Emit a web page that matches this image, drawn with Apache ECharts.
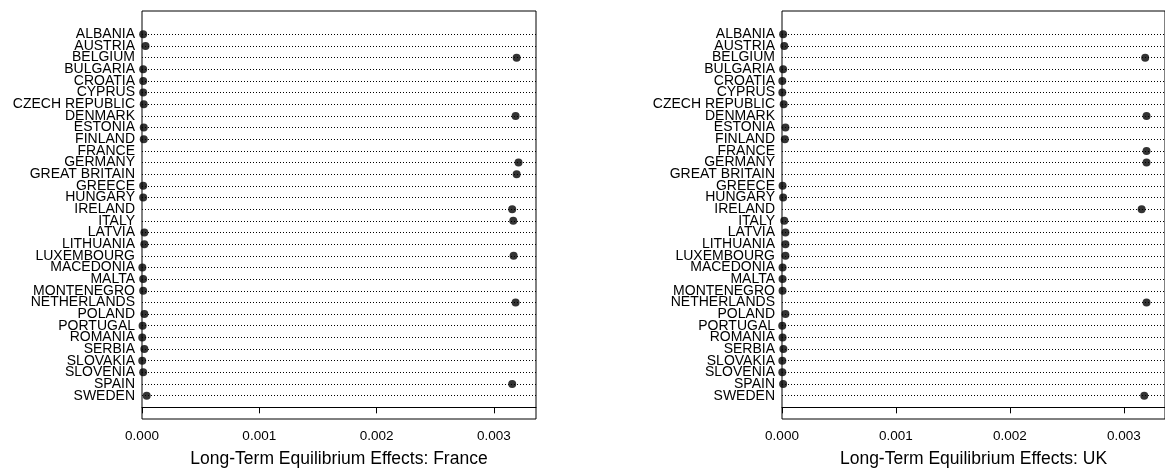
<!DOCTYPE html>
<html>
<head>
<meta charset="utf-8">
<script src="https://cdn.jsdelivr.net/npm/echarts@6/dist/echarts.min.js"></script>
<style>
  html, body { margin: 0; padding: 0; background: #fff; }
  #chart { width: 1165px; height: 473px; }
</style>
</head>
<body>
<div id="chart"></div>
<script>
// Countries, listed top to bottom
const countries = [
  'ALBANIA', 'AUSTRIA', 'BELGIUM', 'BULGARIA', 'CROATIA', 'CYPRUS',
  'CZECH REPUBLIC', 'DENMARK', 'ESTONIA', 'FINLAND', 'FRANCE', 'GERMANY',
  'GREAT BRITAIN', 'GREECE', 'HUNGARY', 'IRELAND', 'ITALY', 'LATVIA',
  'LITHUANIA', 'LUXEMBOURG', 'MACEDONIA', 'MALTA', 'MONTENEGRO',
  'NETHERLANDS', 'POLAND', 'PORTUGAL', 'ROMANIA', 'SERBIA', 'SLOVAKIA',
  'SLOVENIA', 'SPAIN', 'SWEDEN'
];

// Long-term equilibrium effects of a shock in France (no value for France itself)
const franceEffects = [
  0.00001, 0.00003, 0.003195, 0.00001, 0.00001, 0.00001,
  0.000015, 0.003186, 0.000015, 0.000015, null, 0.003211,
  0.003195, 0.00001, 0.00001, 0.003157, 0.003166, 0.00002,
  0.00002, 0.003169, 0.000003, 0.00001, 0.00001,
  0.003186, 0.00002, 0.000005, 0.000002, 0.00002, 0.000002,
  0.00001, 0.003157, 0.00004
];

// Long-term equilibrium effects of a shock in the UK (no value for Great Britain)
const ukEffects = [
  0.00001, 0.00002, 0.003186, 0.00001, 0.000003, 0.000003,
  0.000015, 0.003198, 0.00003, 0.000025, 0.003198, 0.003198,
  null, 0.000005, 0.00001, 0.003155, 0.00002, 0.00003,
  0.00003, 0.00003, 0.000005, 0.000005, 0.000005,
  0.003198, 0.00003, 0.000002, 0.000005, 0.000012, 0.000003,
  0.000003, 0.00001, 0.003178
];

// Horizontal axis ticks and range
const xTicks = [0, 0.001, 0.002, 0.003];
const xTickLabels = ['0.000', '0.001', '0.002', '0.003'];
const xMax = 0.00336;

const panelTitles = ['Long-Term Equilibrium Effects: France', 'Long-Term Equilibrium Effects: UK'];

const FONT = '"Liberation Sans", Arial, Helvetica, sans-serif';
const n = countries.length;
const rowValue = i => n - i;          // first country at the top

function points(values) {
  const out = [];
  values.forEach((v, i) => { if (v !== null) out.push([v, rowValue(i)]); });
  return out;
}

function xAxisFor(gridIndex, title) {
  return {
    type: 'value', gridIndex, min: 0, max: xMax,
    name: title, nameLocation: 'middle', nameGap: 31,
    nameTextStyle: { fontFamily: FONT, fontSize: 17.5, color: '#000' },
    axisLine: { show: true, lineStyle: { color: '#000', width: 1 } },
    axisTick: { show: true, length: 6, inside: false, customValues: xTicks,
                lineStyle: { color: '#000', width: 1 } },
    axisLabel: { show: true, customValues: xTicks, margin: 10,
                 fontFamily: FONT, fontSize: 13.5, color: '#000',
                 formatter: v => { const k = xTicks.indexOf(v); return k >= 0 ? xTickLabels[k] : ''; } },
    splitLine: { show: false }
  };
}

function yAxisFor(gridIndex) {
  return {
    type: 'value', gridIndex, min: -1, max: n + 2, interval: 1,
    axisLine: { show: false }, axisTick: { show: false }, splitLine: { show: false },
    axisLabel: { show: true, margin: 7, fontFamily: FONT, fontSize: 14, color: '#000',
                 formatter: v => { const i = n - v; return (i >= 0 && i < n && Number.isInteger(i)) ? countries[i] : ''; } }
  };
}

function seriesFor(idx, values) {
  return {
    type: 'scatter', xAxisIndex: idx, yAxisIndex: idx,
    data: points(values), symbol: 'circle', symbolSize: 8,
    itemStyle: { color: '#000' }, clip: false, silent: true,
    markLine: {
      silent: true, symbol: ['none', 'none'], label: { show: false },
      lineStyle: { color: '#000', width: 1, type: [1, 2] },
      emphasis: { disabled: true },
      data: countries.map((c, i) => ({ yAxis: rowValue(i) }))
    },
    z: 3
  };
}

const chart = echarts.init(document.getElementById('chart'), null, { renderer: 'canvas' });
chart.setOption({
  animation: false,
  backgroundColor: '#fff',
  grid: [
    { left: 142, top: 11, width: 394, height: 411, show: true, borderColor: '#000', borderWidth: 1, backgroundColor: 'transparent' },
    { left: 782, top: 11, width: 396, height: 411, show: true, borderColor: '#000', borderWidth: 1, backgroundColor: 'transparent' }
  ],
  xAxis: [xAxisFor(0, panelTitles[0]), xAxisFor(1, panelTitles[1])],
  yAxis: [yAxisFor(0), yAxisFor(1)],
  series: [seriesFor(0, franceEffects), seriesFor(1, ukEffects)]
});
</script>
</body>
</html>
